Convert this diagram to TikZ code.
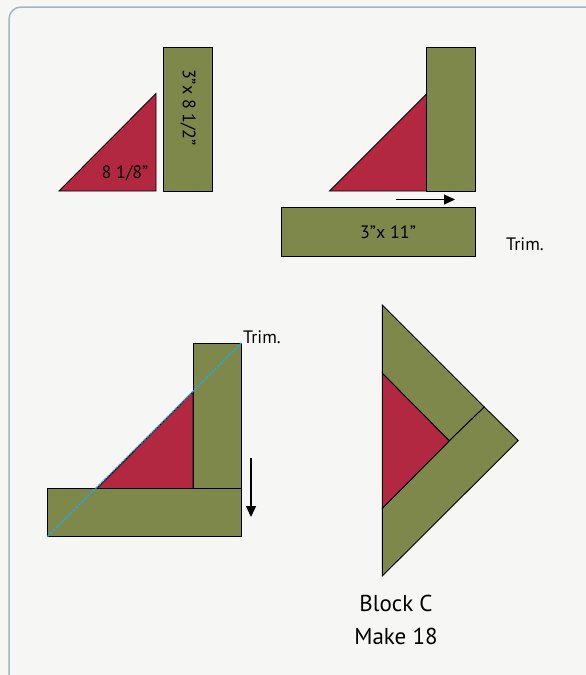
\documentclass[tikz,border=0pt]{standalone}
\usepackage{fontspec}
\setmainfont{PT Sans}
\usetikzlibrary{arrows.meta}
\definecolor{bgc}{HTML}{F6F6F4}
\definecolor{framec}{HTML}{A3B5C2}
\definecolor{greenc}{HTML}{7F884B}
\definecolor{redc}{HTML}{B22841}
\definecolor{cyanc}{HTML}{29A8E0}
\tikzset{
  gpiece/.style={fill=greenc, draw=black, line width=0.9pt, line join=miter},
  rpiece/.style={fill=redc, draw=black, line width=0.9pt, line join=miter},
  lbl/.style={font=\fontsize{18}{21}\selectfont, inner sep=0pt, text=black},
  movearrow/.style={-{Triangle[length=11pt,width=10pt]}, line width=1.3pt},
  trimline/.style={cyanc, line width=1.2pt, dash pattern=on 3pt off 1pt},
}
\begin{document}
\begin{tikzpicture}[x=1pt,y=-1pt]
\useasboundingbox (0,0) rectangle (586,675);
\fill[bgc] (0,0) rectangle (586,675);
\begin{scope}
\clip (0,0) rectangle (586,675);
\draw[framec, line width=1.5pt, rounded corners=12pt] (9,7) rectangle (600,690);
\end{scope}

% Panel 1
\coordinate (t1a) at (59,191);
\coordinate (t1b) at (156,191);
\coordinate (t1c) at (156,93.5);
\path[rpiece] (t1a) -- (t1b) -- (t1c) -- cycle;
\path[gpiece] (163,47) rectangle (212,191);
\node[lbl] (l1) at (125,173) {8 1/8”};
\node[lbl, rotate=-90] (l2) at (188,107.5) {3”x 8 1/2”};

% Panel 2
\coordinate (t2a) at (329.5,191);
\coordinate (t2b) at (426.5,191);
\coordinate (t2c) at (426.5,94);
\path[rpiece] (t2a) -- (t2b) -- (t2c) -- cycle;
\path[gpiece] (426.5,47) rectangle (475,191);
\coordinate (a1s) at (396,199.5);
\coordinate (a1e) at (455,199.5);
\draw[movearrow] (a1s) -- (a1e);
\path[gpiece] (281,207.5) rectangle (475,256);
\node[lbl] (l3) at (388,232.5) {3”x 11”};
\node[lbl, anchor=west] (trim1) at (506,244) {Trim.};

% Panel 3
\path[gpiece] (193,343) rectangle (241.5,488.5);
\coordinate (t3a) at (96.8,488.5);
\coordinate (t3b) at (193,488.5);
\coordinate (t3c) at (193,391.8);
\path[rpiece] (t3a) -- (t3b) -- (t3c) -- cycle;
\path[gpiece] (47.3,488.5) rectangle (241.5,536.7);
\coordinate (c1) at (47.3,536.7);
\coordinate (c2) at (241.5,342.8);
\draw[trimline] (c1) -- (c2);
\node[lbl, anchor=west] (trim2) at (243,337) {Trim.};
\coordinate (a2s) at (251,458);
\coordinate (a2e) at (251,517);
\draw[movearrow] (a2s) -- (a2e);

% Panel 4
\coordinate (top) at (382.3,305);
\coordinate (rgt) at (518.3,440.5);
\coordinate (bot) at (382.3,576);
\coordinate (r1) at (382.3,373.3);
\coordinate (r2) at (382.3,508.3);
\coordinate (apex) at (449.3,440.8);
\coordinate (seam) at (484.3,407);
\path[gpiece] (top) -- (seam) -- (apex) -- (r1) -- cycle;
\path[gpiece] (seam) -- (rgt) -- (bot) -- (r2) -- (apex) -- cycle;
\path[rpiece] (r1) -- (apex) -- (r2) -- cycle;
\node[font=\fontsize{23}{33}\selectfont, align=center, inner sep=0pt, text=black] (cap) at (396,619.5) {Block C\\Make 18};
\end{tikzpicture}
\end{document}
